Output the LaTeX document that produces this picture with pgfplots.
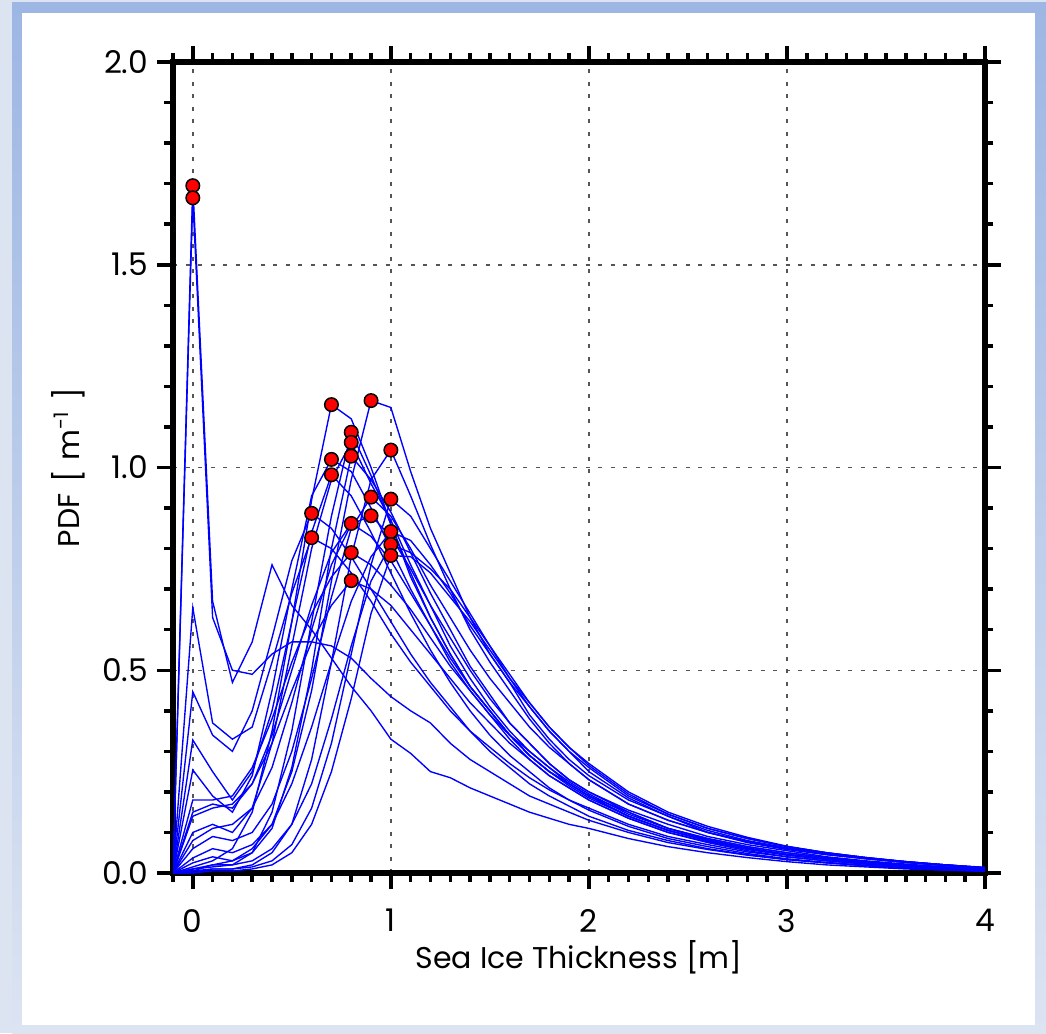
\documentclass[border=0pt]{standalone}
\usepackage{fontspec}
\setmainfont{Poppins}
\usepackage{pgfplots}
\pgfplotsset{compat=1.18}
\usepackage{pgfplotstable}
\definecolor{bgouter}{HTML}{DCE4F2}
\definecolor{frameblue}{HTML}{9DB6E3}
\definecolor{griddark}{HTML}{555555}

% PDF curves, one column per member
\pgfplotstableread{
x c1 c2 c3 c4 c5 c6 c7 c8 c9 c10 c11 c12 c13 c14 c15 c16 c17 c18 c19 c20 c21
-0.1 0 0 0 0 0 0 0 0 0 0 0 0 0 0 0 0 0 0 0 0 0
0.0 1.695 1.665 0.015 0.005 0.01 0.10 0.254 0.025 0.0 0.328 0.447 0.654 0.06 0.005 0.08 0.15 0.037 0.01 0.18 0.0 0.14
0.1 0.67 0.63 0.03 0.02 0.015 0.12 0.19 0.04 0.01 0.25 0.34 0.37 0.09 0.01 0.11 0.17 0.06 0.02 0.18 0.005 0.16
0.2 0.47 0.50 0.06 0.03 0.02 0.10 0.15 0.03 0.01 0.18 0.30 0.33 0.08 0.01 0.12 0.16 0.05 0.02 0.19 0.005 0.17
0.3 0.57 0.49 0.15 0.06 0.05 0.16 0.24 0.05 0.02 0.25 0.40 0.36 0.10 0.015 0.16 0.22 0.07 0.03 0.26 0.01 0.22
0.4 0.76 0.54 0.35 0.12 0.15 0.32 0.45 0.11 0.05 0.40 0.58 0.52 0.17 0.03 0.26 0.34 0.12 0.06 0.38 0.02 0.32
0.5 0.66 0.57 0.62 0.25 0.35 0.56 0.70 0.26 0.12 0.62 0.77 0.69 0.30 0.07 0.42 0.50 0.22 0.12 0.52 0.05 0.45
0.6 0.60 0.57 0.92 0.45 0.62 0.80 0.93 0.50 0.28 0.84 0.887 0.827 0.48 0.16 0.60 0.66 0.36 0.22 0.64 0.12 0.57
0.7 0.53 0.56 1.155 0.72 0.88 0.97 1.020 0.80 0.52 0.982 0.85 0.80 0.68 0.32 0.76 0.79 0.52 0.38 0.73 0.25 0.66
0.8 0.46 0.53 1.12 0.97 1.087 1.062 0.99 1.028 0.78 0.93 0.78 0.74 0.85 0.54 0.86 0.862 0.67 0.56 0.790 0.43 0.721
0.9 0.40 0.48 1.00 1.165 0.98 0.96 0.90 0.97 0.97 0.84 0.70 0.67 0.927 0.76 0.881 0.83 0.78 0.72 0.76 0.64 0.70
1.0 0.33 0.435 0.86 1.148 0.86 0.87 0.80 0.89 1.043 0.74 0.62 0.59 0.88 0.922 0.83 0.77 0.842 0.810 0.71 0.783 0.66
1.1 0.295 0.40 0.73 0.99 0.74 0.76 0.70 0.79 0.93 0.64 0.54 0.52 0.80 0.88 0.75 0.69 0.82 0.79 0.65 0.78 0.60
1.2 0.25 0.37 0.63 0.85 0.63 0.66 0.61 0.69 0.81 0.55 0.47 0.46 0.71 0.80 0.66 0.61 0.76 0.75 0.58 0.74 0.54
1.3 0.235 0.32 0.54 0.74 0.54 0.56 0.52 0.60 0.70 0.47 0.41 0.40 0.63 0.72 0.58 0.53 0.69 0.70 0.51 0.68 0.48
1.4 0.21 0.28 0.46 0.63 0.46 0.48 0.45 0.51 0.60 0.40 0.35 0.35 0.55 0.64 0.50 0.46 0.61 0.63 0.45 0.62 0.42
1.5 0.19 0.25 0.40 0.54 0.40 0.41 0.39 0.44 0.52 0.34 0.30 0.31 0.48 0.56 0.43 0.40 0.54 0.56 0.39 0.55 0.37
1.6 0.17 0.22 0.34 0.47 0.34 0.35 0.33 0.37 0.45 0.29 0.26 0.27 0.42 0.48 0.37 0.34 0.47 0.49 0.34 0.48 0.32
1.7 0.15 0.19 0.30 0.39 0.29 0.30 0.28 0.32 0.38 0.25 0.22 0.235 0.36 0.41 0.32 0.29 0.41 0.42 0.29 0.42 0.28
1.8 0.135 0.17 0.26 0.33 0.25 0.26 0.24 0.27 0.32 0.21 0.19 0.205 0.31 0.35 0.27 0.25 0.35 0.36 0.25 0.36 0.24
1.9 0.12 0.15 0.225 0.28 0.22 0.22 0.21 0.23 0.27 0.18 0.165 0.18 0.27 0.30 0.23 0.215 0.30 0.31 0.22 0.31 0.21
2.0 0.11 0.13 0.195 0.24 0.19 0.19 0.18 0.20 0.23 0.155 0.14 0.16 0.23 0.25 0.20 0.185 0.26 0.27 0.19 0.265 0.18
2.2 0.085 0.10 0.145 0.18 0.15 0.14 0.135 0.155 0.17 0.115 0.105 0.12 0.17 0.185 0.15 0.14 0.19 0.20 0.14 0.195 0.135
2.4 0.065 0.075 0.11 0.14 0.11 0.105 0.10 0.12 0.13 0.085 0.08 0.09 0.13 0.14 0.11 0.105 0.145 0.15 0.105 0.145 0.10
2.6 0.05 0.058 0.082 0.10 0.085 0.08 0.075 0.09 0.10 0.065 0.06 0.07 0.10 0.105 0.085 0.08 0.11 0.115 0.08 0.11 0.077
2.8 0.038 0.044 0.062 0.077 0.065 0.06 0.055 0.07 0.075 0.048 0.045 0.052 0.078 0.08 0.065 0.06 0.085 0.088 0.06 0.085 0.058
3.0 0.028 0.033 0.046 0.06 0.05 0.045 0.04 0.055 0.058 0.035 0.033 0.04 0.06 0.062 0.05 0.045 0.065 0.066 0.046 0.065 0.044
3.2 0.02 0.025 0.035 0.046 0.038 0.035 0.03 0.04 0.045 0.026 0.025 0.03 0.046 0.048 0.038 0.034 0.05 0.05 0.035 0.05 0.033
3.4 0.015 0.018 0.026 0.036 0.028 0.025 0.022 0.03 0.035 0.019 0.018 0.022 0.035 0.037 0.028 0.025 0.038 0.038 0.026 0.038 0.025
3.6 0.01 0.013 0.019 0.026 0.02 0.018 0.016 0.022 0.026 0.013 0.012 0.016 0.026 0.028 0.02 0.018 0.028 0.028 0.019 0.028 0.018
3.8 0.007 0.009 0.012 0.02 0.014 0.012 0.01 0.015 0.018 0.008 0.008 0.01 0.018 0.02 0.014 0.012 0.02 0.02 0.013 0.02 0.012
4.0 0.004 0.005 0.006 0.012 0.008 0.007 0.006 0.01 0.012 0.005 0.005 0.006 0.012 0.013 0.009 0.007 0.013 0.013 0.008 0.014 0.007
}\pdfdata

% peak of each curve
\pgfplotstableread{
x y
0.0 1.695
0.0 1.665
0.7 1.155
0.9 1.165
0.8 1.087
0.8 1.062
0.7 1.020
0.8 1.028
1.0 1.043
0.7 0.982
0.6 0.887
0.6 0.827
0.9 0.927
1.0 0.922
0.9 0.881
0.8 0.862
1.0 0.842
1.0 0.810
0.8 0.790
1.0 0.783
0.8 0.721
}\peaks

\begin{document}
\begin{tikzpicture}[x=1pt,y=1pt]
\fill[bgouter] (0,0) rectangle (418.4,413.2);
\shade[top color=frameblue, bottom color=bgouter] (4.8,0) rectangle (418.4,412);
\fill[white] (8.8,3.2) rectangle (414,408);
\begin{axis}[
    at={(69.2pt,64pt)}, anchor=south west,
    scale only axis, width=324.8pt, height=324.4pt,
    xmin=-0.1, xmax=4, ymin=0, ymax=2,
    xtick={0,1,2,3,4},
    ytick={0,0.5,1,1.5,2},
    minor xtick={-0.1,0,...,4},
    minor ytick={0,0.1,...,2},
    tick align=outside,
    major tick length=6.4pt,
    minor tick length=3.4pt,
    every tick/.style={black, line width=1.4pt},
    axis line style={line width=2.1pt},
    grid=major,
    major grid style={griddark, line width=0.6pt, dash pattern=on 1.6pt off 3.4pt},
    /pgf/number format/assume math mode=true,
    tick label style={font=\fontsize{12.5}{14}\selectfont},
    xticklabel style={yshift=-4.5pt},
    yticklabel style={/pgf/number format/.cd, fixed, fixed zerofill, precision=1},
    xlabel={Sea Ice Thickness [m]},
    ylabel={PDF\hspace{1pt} [\hspace{4pt}m\textsuperscript{-1}\hspace{4pt}]},
    label style={font=\fontsize{12}{14}\selectfont},
    xlabel style={at={(axis description cs:0.5,-0.118)}, anchor=base},
    ylabel style={at={(axis description cs:-0.129,0.5)}, anchor=center},
]
\pgfplotsinvokeforeach{1,...,21}{
  \addplot[blue, line width=0.55pt] table[x=x, y=c#1]{\pdfdata};
}
\addplot[only marks, mark=*, mark size=2.7pt,
  mark options={fill=red, draw=black, line width=0.6pt}] table[x=x, y=y]{\peaks};
\end{axis}
\end{tikzpicture}
\end{document}
